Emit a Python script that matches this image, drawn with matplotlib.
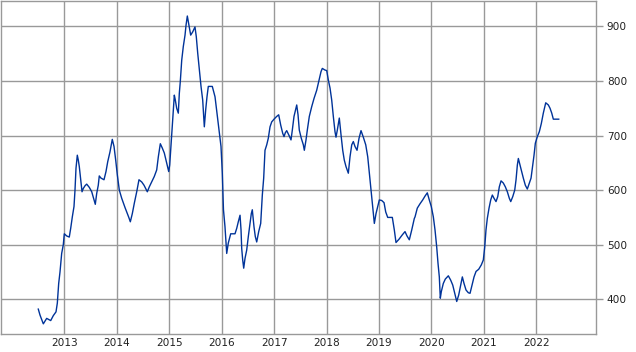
import matplotlib
matplotlib.use('Agg')
import matplotlib.pyplot as plt
import numpy as np

# time in decimal years
years = [
    2012.504, 2012.537, 2012.600, 2012.664, 2012.741, 2012.790, 2012.842, 2012.867,
    2012.893, 2012.918, 2012.950, 2012.981, 2013.000, 2013.046, 2013.095, 2013.122,
    2013.153, 2013.185, 2013.204, 2013.223, 2013.248, 2013.267, 2013.286, 2013.313,
    2013.338, 2013.362, 2013.395, 2013.427, 2013.477, 2013.523, 2013.553, 2013.591,
    2013.618, 2013.648, 2013.667, 2013.700, 2013.757, 2013.795, 2013.828, 2013.871,
    2013.915, 2013.948, 2013.980, 2014.011, 2014.049, 2014.095, 2014.158, 2014.230,
    2014.259, 2014.297, 2014.335, 2014.381, 2014.424, 2014.476, 2014.520, 2014.552,
    2014.583, 2014.621, 2014.667, 2014.716, 2014.762, 2014.793, 2014.831, 2014.869,
    2014.907, 2014.953, 2014.991, 2015.010, 2015.029, 2015.048, 2015.079, 2015.098,
    2015.117, 2015.143, 2015.174, 2015.193, 2015.212, 2015.239, 2015.269, 2015.302,
    2015.321, 2015.346, 2015.378, 2015.410, 2015.449, 2015.492, 2015.517, 2015.544,
    2015.569, 2015.607, 2015.639, 2015.670, 2015.696, 2015.721, 2015.746, 2015.822,
    2015.874, 2015.912, 2015.950, 2015.988, 2016.013, 2016.025, 2016.035, 2016.064,
    2016.097, 2016.127, 2016.173, 2016.255, 2016.288, 2016.318, 2016.351, 2016.370,
    2016.383, 2016.402, 2016.421, 2016.446, 2016.478, 2016.509, 2016.541, 2016.566,
    2016.585, 2016.617, 2016.642, 2016.669, 2016.707, 2016.745, 2016.776, 2016.802,
    2016.827, 2016.860, 2016.890, 2016.923, 2016.955, 2016.999, 2017.050, 2017.088,
    2017.127, 2017.165, 2017.190, 2017.214, 2017.241, 2017.291, 2017.323, 2017.348,
    2017.380, 2017.413, 2017.432, 2017.457, 2017.481, 2017.519, 2017.558, 2017.577,
    2017.609, 2017.634, 2017.672, 2017.718, 2017.762, 2017.813, 2017.844, 2017.895,
    2017.920, 2017.971, 2018.004, 2018.034, 2018.067, 2018.099, 2018.130, 2018.162,
    2018.181, 2018.206, 2018.244, 2018.277, 2018.309, 2018.339, 2018.372, 2018.416,
    2018.448, 2018.481, 2018.511, 2018.543, 2018.582, 2018.620, 2018.658, 2018.702,
    2018.748, 2018.786, 2018.816, 2018.849, 2018.881, 2018.912, 2018.944, 2018.976,
    2019.007, 2019.053, 2019.097, 2019.129, 2019.167, 2019.255, 2019.293, 2019.325,
    2019.382, 2019.445, 2019.497, 2019.535, 2019.579, 2019.625, 2019.674, 2019.688,
    2019.731, 2019.783, 2019.834, 2019.878, 2019.922, 2019.960, 2019.998, 2020.037,
    2020.069, 2020.101, 2020.126, 2020.151, 2020.170, 2020.189, 2020.227, 2020.265,
    2020.323, 2020.368, 2020.407, 2020.437, 2020.483, 2020.521, 2020.559, 2020.590,
    2020.622, 2020.660, 2020.704, 2020.737, 2020.775, 2020.813, 2020.851, 2020.902,
    2020.952, 2020.990, 2021.017, 2021.041, 2021.066, 2021.099, 2021.131, 2021.162,
    2021.194, 2021.232, 2021.265, 2021.295, 2021.328, 2021.371, 2021.410, 2021.448,
    2021.486, 2021.513, 2021.551, 2021.589, 2021.614, 2021.639, 2021.658, 2021.690,
    2021.722, 2021.753, 2021.791, 2021.829, 2021.867, 2021.900, 2021.925, 2021.957,
    2021.982, 2022.020, 2022.058, 2022.096, 2022.134, 2022.180, 2022.230, 2022.262,
    2022.295, 2022.325, 2022.428,
]
values = [
    382, 371, 355, 365, 361, 370, 377, 393,
    429, 450, 484, 500, 520, 516, 514, 530,
    551, 570, 600, 640, 664, 655, 643, 619,
    597, 603, 608, 611, 605, 597, 587, 574,
    594, 609, 626, 622, 619, 634, 652, 670,
    693, 680, 655, 628, 600, 585, 568, 550,
    542, 557, 576, 597, 619, 615, 609, 603,
    597, 606, 615, 625, 637, 661, 685, 677,
    668, 649, 634, 646, 674, 704, 747, 774,
    765, 750, 741, 777, 799, 838, 863, 884,
    902, 919, 902, 884, 890, 899, 881, 851,
    826, 790, 765, 716, 747, 771, 790, 790,
    771, 741, 710, 680, 631, 594, 564, 533,
    484, 503, 520, 520, 530, 542, 554, 527,
    493, 472, 457, 475, 490, 515, 539, 557,
    564, 533, 515, 505, 524, 539, 591, 622,
    673, 683, 695, 716, 725, 730, 735, 738,
    719, 704, 698, 705, 709, 699, 692, 710,
    735, 748, 756, 738, 710, 695, 683, 673,
    692, 710, 735, 753, 768, 783, 796, 817,
    823, 820, 819, 802, 787, 765, 735, 707,
    697, 710, 732, 701, 673, 655, 643, 631,
    661, 683, 689, 680, 673, 695, 709, 697,
    683, 661, 631, 600, 570, 539, 557, 570,
    582, 581, 577, 560, 550, 550, 527, 504,
    510, 518, 524, 516, 509, 527, 548, 551,
    567, 575, 582, 589, 595, 582, 570, 551,
    527, 496, 466, 441, 402, 414, 429, 437,
    443, 435, 426, 414, 396, 408, 426, 441,
    429, 417, 412, 411, 426, 441, 451, 455,
    463, 472, 496, 527, 548, 567, 582, 591,
    585, 579, 588, 606, 617, 613, 606, 597,
    585, 579, 588, 600, 619, 646, 658, 646,
    634, 622, 609, 602, 613, 622, 640, 664,
    686, 698, 707, 722, 741, 760, 756, 750,
    741, 730, 730,
]

year_ticks = list(range(2013, 2023))
value_ticks = [400, 500, 600, 700, 800, 900]

grid_col = '#999999'

fig = plt.figure(figsize=(6.36, 3.52), dpi=100)
ax = fig.add_axes([1 / 636, 18 / 352, 594.7 / 636, 333 / 352])

ax.plot(years, values, color='#003399', linewidth=1.0)

ax.set_xlim(2011.793, 2023.133)
ax.set_ylim(336.4, 946.5)

ax.set_xticks(year_ticks)
ax.set_xticklabels([str(y) for y in year_ticks])
ax.set_yticks(value_ticks)

ax.yaxis.tick_right()
ax.tick_params(axis='y', length=5, width=1, color=grid_col, pad=3,
               labelsize=7.6, labelcolor='#222222')
ax.tick_params(axis='x', length=0, pad=3, labelsize=7.6, labelcolor='#222222')

ax.grid(True, color=grid_col, linewidth=1)
ax.set_axisbelow(True)
for s in ax.spines.values():
    s.set_color(grid_col)
    s.set_linewidth(1)

fig.savefig('out.png', dpi=100)
